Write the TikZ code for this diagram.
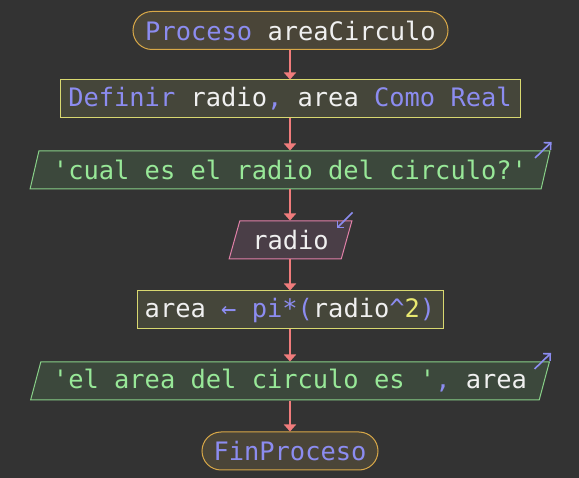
\documentclass[tikz,border=0pt]{standalone}
\usepackage{fontspec}
\setmonofont{DejaVu Sans Mono}
\usetikzlibrary{arrows.meta,shapes.geometric,calc}

\definecolor{bg}{HTML}{333333}
\definecolor{kw}{HTML}{8C8CF0}
\definecolor{idf}{HTML}{F0F0F0}
\definecolor{str}{HTML}{98E898}
\definecolor{num}{HTML}{E8E870}
\definecolor{flow}{HTML}{F07C7C}
\definecolor{termfill}{HTML}{4A4538}
\definecolor{termline}{HTML}{D8A848}
\definecolor{procfill}{HTML}{45463A}
\definecolor{procline}{HTML}{D8D870}
\definecolor{outfill}{HTML}{3C483C}
\definecolor{outline}{HTML}{88D088}
\definecolor{infill}{HTML}{4A3E47}
\definecolor{inline}{HTML}{E080A8}

\tikzset{
  base/.style={inner sep=0pt, minimum height=38pt, line width=1pt,
    font=\ttfamily\fontsize{25.4}{30}\selectfont, text=idf},
  term/.style={base, draw=termline, fill=termfill, rounded corners=19pt},
  proc/.style={base, draw=procline, fill=procfill},
  outbox/.style={base, shape=trapezium, trapezium stretches=true,
    trapezium left angle=67.2, trapezium right angle=112.8,
    draw=outline, fill=outfill, text=str},
  inbox/.style={base, shape=trapezium, trapezium stretches=true,
    trapezium left angle=67.8, trapezium right angle=112.2,
    draw=inline, fill=infill},
  flowline/.style={draw=flow, line width=2pt,
    -{Triangle[length=7pt,width=12pt]}},
  ioicon/.style={draw=kw, line width=1.6pt,
    -{Straight Barb[length=5pt,width=10pt]}}
}

\begin{document}
\begin{tikzpicture}[x=1pt,y=-1pt]
  \fill[bg] (0,0) rectangle (579,478);
  \useasboundingbox (0,0) rectangle (579,478);

  \node[term, minimum width=315pt] (start) at (290.5,30.5)
    {\textcolor{kw}{Proceso} areaCirculo};
  \node[proc, minimum width=460pt] (def) at (290,99)
    {\textcolor{kw}{Definir} radio\textcolor{kw}{,} area \textcolor{kw}{Como Real}};
  \node[outbox, minimum width=522pt] (ask) at (290,170)
    {'cual es el radio del circulo?'};
  \node[inbox, minimum width=123pt] (read) at (290.5,240)
    {radio};
  \node[proc, minimum width=306pt] (calc) at (290,310)
    {area \textcolor{kw}{← pi*(}radio\textcolor{kw}{\^{}}\textcolor{num}{2}\textcolor{kw}{)}};
  \node[outbox, minimum width=522pt] (show) at (290,381)
    {'el area del circulo es '\textcolor{kw}{,} \textcolor{idf}{area}};
  \node[term, minimum width=176pt] (stop) at (290,451)
    {\textcolor{kw}{FinProceso}};

  % flow connectors, all on the vertical axis of the definition box
  \draw[flowline] (def.north |- start.south) -- (def.north);
  \draw[flowline] (def.south) -- (def.south |- ask.north);
  \draw[flowline] (def.south |- ask.south) -- (def.south |- read.north);
  \draw[flowline] (def.south |- read.south) -- (calc.north);
  \draw[flowline] (calc.south) -- (calc.south |- show.north);
  \draw[flowline] (calc.south |- show.south) -- (stop.north);

  % input / output markers
  \draw[ioicon] ($(ask.top right corner)+(-15.5,7.5)$) -- ($(ask.top right corner)+(1,-8.5)$);
  \draw[ioicon] ($(show.top right corner)+(-15.5,7.5)$) -- ($(show.top right corner)+(1,-8.5)$);
  \draw[ioicon] ($(read.top right corner)+(0,-8)$) -- ($(read.top right corner)+(-16,8)$);
\end{tikzpicture}
\end{document}
